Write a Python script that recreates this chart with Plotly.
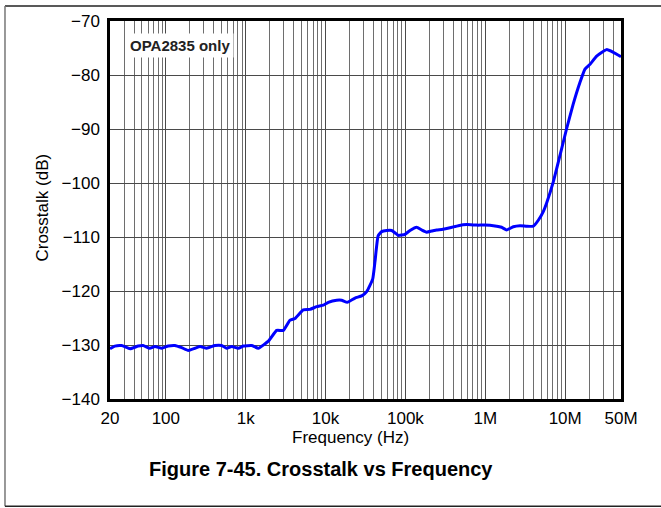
import plotly.graph_objects as go

# Crosstalk measurement, OPA2835
freq_hz = [
    20, 23, 28, 35.6, 45, 52, 63, 73, 89, 107, 130, 158, 191, 232, 268, 325,
    413, 500, 578, 668, 808, 934, 1188, 1440, 1950, 2440, 2960, 3590, 4140,
    5260, 6380, 7740, 9380, 10820, 13770, 15920, 18710, 23370, 28330, 32740,
    38900, 41600, 45500, 50400, 58200, 67300, 75000, 81500, 98700, 114000,
    138000, 160000, 184000, 213000, 246000, 284000, 361000, 459000, 585000,
    780000, 991000, 1.26e6, 1.60e6, 1.85e6, 2.24e6, 2.72e6, 3.30e6, 3.99e6,
    4.61e6, 5.32e6, 5.86e6, 7.10e6, 8.61e6, 10.4e6, 12.6e6, 15.3e6, 17.7e6,
    20.5e6, 24.8e6, 33.0e6, 40.1e6, 50e6,
]
crosstalk_db = [
    -130.7, -130.2, -130.1, -130.7, -130.2, -130.1, -130.6, -130.3, -130.6,
    -130.2, -130.1, -130.5, -131.0, -130.6, -130.3, -130.6, -130.1, -130.1,
    -130.6, -130.3, -130.6, -130.2, -130.1, -130.6, -129.2, -127.3, -127.3,
    -125.4, -125.1, -123.5, -123.4, -122.9, -122.6, -122.1, -121.7, -121.7,
    -122.1, -121.3, -120.9, -120.1, -117.8, -114.5, -109.8, -109.0, -108.8,
    -108.8, -109.3, -109.7, -109.5, -108.8, -108.2, -108.7, -109.1, -108.9,
    -108.7, -108.6, -108.3, -107.9, -107.7, -107.8, -107.8, -107.9, -108.2,
    -108.7, -108.1, -107.9, -108.0, -108.0, -106.9, -105.3, -103.7, -99.8,
    -94.9, -90.0, -85.4, -81.4, -78.9, -78.0, -76.5, -75.3, -75.8, -76.6,
]

x_tick_vals = [20, 100, 1e3, 1e4, 1e5, 1e6, 1e7, 5e7]
x_tick_text = ["20", "100", "1k", "10k", "100k", "1M", "10M", "50M"]
y_tick_vals = [-140, -130, -120, -110, -100, -90, -80, -70]
y_tick_text = ["\u2212140", "\u2212130", "\u2212120", "\u2212110",
               "\u2212100", "\u221290", "\u221280", "\u221270"]

FONT = "Liberation Sans, Arial, sans-serif"

fig = go.Figure()
fig.add_trace(go.Scatter(
    x=freq_hz, y=crosstalk_db, mode="lines",
    line=dict(color="#0000ff", width=3, shape="spline", smoothing=0.4),
    showlegend=False, hoverinfo="skip",
))

fig.update_xaxes(
    type="log",
    range=[1.30103, 7.69897],
    tickvals=x_tick_vals, ticktext=x_tick_text,
    tickfont=dict(family=FONT, size=17, color="#000"),
    ticklabelstandoff=2,
    showgrid=True, gridcolor="#4a4a4a", gridwidth=1,
    minor=dict(dtick="D1", showgrid=True, gridcolor="#6e6e6e", gridwidth=1, ticks=""),
    showline=True, linecolor="#000", linewidth=2.5, mirror=True,
    ticks="", zeroline=False,
)
fig.update_yaxes(
    range=[-140, -70],
    tickvals=y_tick_vals, ticktext=y_tick_text,
    tickfont=dict(family=FONT, size=17, color="#000"),
    ticklabelstandoff=4,
    showgrid=True, gridcolor="#4a4a4a", gridwidth=1,
    showline=True, linecolor="#000", linewidth=2.5, mirror=True,
    ticks="", ticklen=0, zeroline=False,
)

# frame around the figure and caption
fig.add_shape(type="line", xref="paper", yref="paper",
              x0=-0.2055, x1=1.2, y0=1.0394, y1=1.0394,
              line=dict(color="#222", width=1.5))
fig.add_shape(type="line", xref="paper", yref="paper",
              x0=-0.2055, x1=-0.2055, y0=1.0394, y1=-0.2835,
              line=dict(color="#777", width=1.5))
fig.add_shape(type="line", xref="paper", yref="paper",
              x0=-0.2055, x1=1.2, y0=-0.2835, y1=-0.2835,
              line=dict(color="#222", width=1.5))

fig.add_annotation(
    text="<b>OPA2835 only</b>", xref="paper", yref="paper",
    x=0.0313, y=0.934, xanchor="left", yanchor="middle", showarrow=False,
    font=dict(family=FONT, size=15, color="#222"),
    bgcolor="#fff", borderpad=3,
)
fig.add_annotation(
    text="Frequency (Hz)", xref="paper", yref="paper",
    x=(350 - 110) / 511, y=(399 - 438) / 381, xanchor="center", yanchor="middle",
    showarrow=False, font=dict(family=FONT, size=17, color="#000"),
)
fig.add_annotation(
    text="Crosstalk (dB)", xref="paper", yref="paper",
    x=(43 - 110) / 511, y=(399 - 206) / 381, xanchor="center", yanchor="middle",
    textangle=-90, showarrow=False, font=dict(family=FONT, size=17, color="#000"),
)
fig.add_annotation(
    text="<b>Figure 7-45. Crosstalk vs Frequency</b>", xref="paper", yref="paper",
    x=(321 - 110) / 511, y=(399 - 470) / 381, xanchor="center", yanchor="middle",
    showarrow=False, font=dict(family=FONT, size=20, color="#000"),
)

fig.update_layout(
    width=661, height=508,
    margin=dict(l=110, r=40, t=18, b=109),
    paper_bgcolor="#fff", plot_bgcolor="#fff",
)

fig.write_html("out.html")
